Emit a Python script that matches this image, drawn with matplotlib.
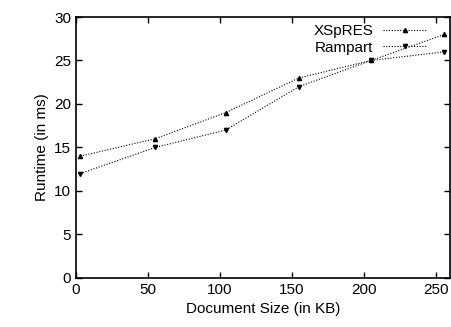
import matplotlib
matplotlib.use('Agg')
from matplotlib import pyplot as plt

plt.rcParams['font.family'] = ['Liberation Sans', 'DejaVu Sans']

sizes = [3, 55, 104, 155, 205, 256]
xspres = [14, 16, 19, 23, 25, 28]
rampart = [12, 15, 17, 22, 25, 26]

fig = plt.figure(figsize=(4.52, 3.27), dpi=100)
ax = fig.add_axes([0.168, 0.15, 0.828, 0.798])

ax.plot(sizes, xspres, color='black', ls=(0, (1, 1.5)), lw=0.8,
        marker='^', ms=3, label='XSpRES')
ax.plot(sizes, rampart, color='black', ls=(0, (1, 1.5)), lw=0.8,
        marker='v', ms=3, label='Rampart')

ax.set_xlim(0, 260)
ax.set_ylim(0, 30)
ax.set_xticks([0, 50, 100, 150, 200, 250])
ax.set_yticks(range(0, 31, 5))
ax.tick_params(direction='in', top=True, right=True, labelsize=11,
               length=4, width=1)
for s in ax.spines.values():
    s.set_linewidth(1.2)

ax.set_xlabel('Document Size (in KB)', fontsize=11)
ax.set_ylabel('Runtime (in ms)', fontsize=11)

ax.legend(loc='upper right', bbox_to_anchor=(0.987, 1.042), frameon=False,
          fontsize=11, markerfirst=False, handlelength=2.9,
          handletextpad=0.6, labelspacing=0.15, borderaxespad=0.8)

fig.savefig('out.png', dpi=100)
